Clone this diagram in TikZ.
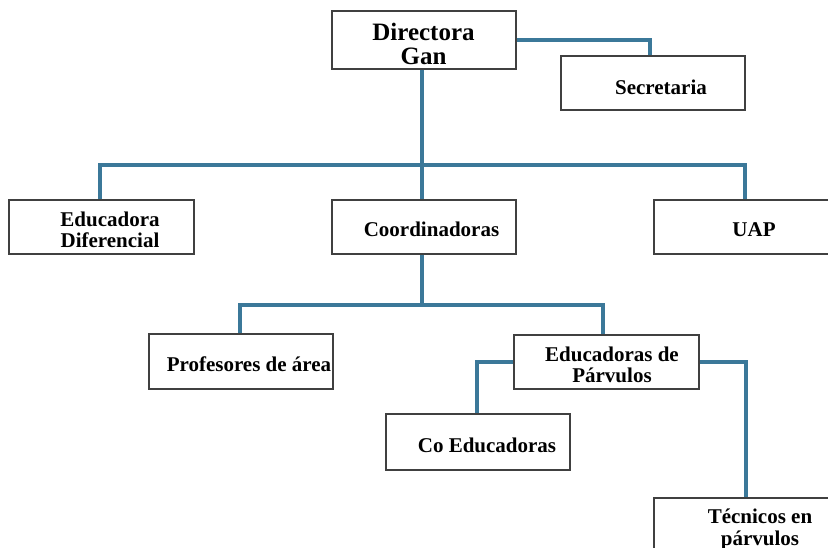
\documentclass[tikz,border=0pt]{standalone}
\usepackage{fontspec}
\setmainfont{Liberation Serif}
\usetikzlibrary{calc}
\definecolor{linkblue}{HTML}{3B7899}
\definecolor{boxgray}{HTML}{404040}
\tikzset{
  box/.style={draw=boxgray, line width=1.2pt, rectangle, inner sep=0pt},
  lbl/.style={inner sep=0pt, anchor=base, align=center, font=\bfseries\fontsize{21}{21}\selectfont},
  biglbl/.style={inner sep=0pt, anchor=base, align=center, font=\bfseries\fontsize{25}{24}\selectfont},
  conn/.style={draw=linkblue, line width=3.5pt, line cap=butt, line join=miter}
}
\begin{document}
\begin{tikzpicture}[x=1pt,y=1pt]
\useasboundingbox (0,0) rectangle (828,-548);
% boxes
\node[box, minimum width=184pt, minimum height=58pt] (dir) at (424,-40) {};
\node[box, minimum width=184pt, minimum height=54pt] (sec) at (653,-83) {};
\node[box, minimum width=185pt, minimum height=54pt] (edif) at (101.5,-227) {};
\node[box, minimum width=184pt, minimum height=54pt] (coord) at (424,-227) {};
\node[box, minimum width=182pt, minimum height=54pt] (uap) at (745,-227) {};
\node[box, minimum width=184pt, minimum height=55pt] (prof) at (241,-361.5) {};
\node[box, minimum width=185pt, minimum height=54pt] (edp) at (606.5,-362) {};
\node[box, minimum width=184pt, minimum height=56pt] (coed) at (478,-442) {};
\node[box, minimum width=184pt, minimum height=62pt] (tec) at (746,-529) {};
% connectors
\coordinate (b1) at (422,-165);
\coordinate (b2) at (422,-305);
\draw[conn] (dir.east) -| ([xshift=-3pt]sec.north);
\draw[conn] ([xshift=-2pt]dir.south) -- (b1);
\draw[conn] ([xshift=-1.5pt]edif.north) |- (b1) -| (uap.north);
\draw[conn] (b1) -- ([xshift=-2pt]coord.north);
\draw[conn] ([xshift=-2pt]coord.south) -- (b2);
\draw[conn] ([xshift=-1pt]prof.north) |- (b2) -| ([xshift=-3.5pt]edp.north);
\draw[conn] (edp.west) -| ([xshift=-1pt]coed.north);
\draw[conn] (edp.east) -| (tec.north);
% labels (base anchor = baseline of last line)
\node[biglbl] (dirt) at (423.5,-65) {Directora\\Gan};
\node[lbl] (sect) at (661,-95) {Secretaria};
\node[lbl] (edift) at (110,-248) {Educadora\\Diferencial};
\node[lbl] (coordt) at (431.5,-237) {Coordinadoras};
\node[lbl] (uapt) at (754,-237) {UAP};
\node[lbl] (proft) at (249,-371.7) {Profesores de área};
\node[lbl] (edpt) at (612,-382.7) {Educadoras de\\Párvulos};
\node[lbl] (coedt) at (487,-452.7) {Co Educadoras};
\node[lbl, font=\bfseries\fontsize{21}{22}\selectfont] (tect) at (760,-545) {Técnicos en\\párvulos};
\end{tikzpicture}
\end{document}
